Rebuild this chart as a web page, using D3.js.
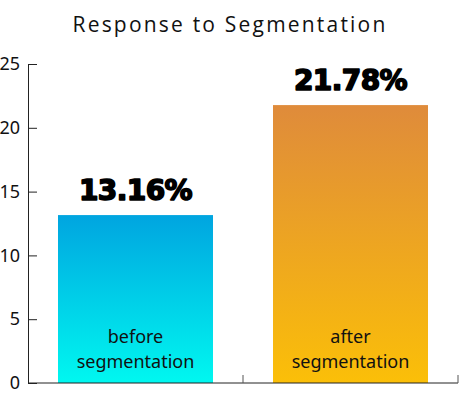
<!DOCTYPE html>
<html>
<head>
<meta charset="utf-8">
<script src="https://cdn.jsdelivr.net/npm/d3@7"></script>
<style>
  body { margin: 0; background: #fff; }
  svg { display: block; }
</style>
</head>
<body>
<div id="chart"></div>
<script>
var categories = ['before\nsegmentation', 'after\nsegmentation'];
var values = [13.16, 21.78];
var valueLabels = ['13.16%', '21.78%'];
var yTicks = [0, 5, 10, 15, 20, 25];
var gradients = [
    { top: '#00a5e0', bottom: '#00f8f0' },
    { top: '#df8b3b', bottom: '#fbbf08' }
];

var W = 460, H = 396;
var margin = { left: 28, right: 2, top: 64, bottom: 13 };

var svg = d3.select('#chart').append('svg')
    .attr('width', W)
    .attr('height', H);

var x = d3.scaleBand()
    .domain(categories)
    .range([margin.left, W - margin.right])
    .paddingInner(0)
    .paddingOuter(0);

var y = d3.scaleLinear()
    .domain([0, 25])
    .range([H - margin.bottom, margin.top]);

var defs = svg.append('defs');
gradients.forEach(function(g, i) {
    var lg = defs.append('linearGradient')
        .attr('id', 'grad' + i)
        .attr('x1', 0).attr('y1', 0).attr('x2', 0).attr('y2', 1);
    lg.append('stop').attr('offset', '0%').attr('stop-color', g.top);
    lg.append('stop').attr('offset', '100%').attr('stop-color', g.bottom);
});

// title
svg.append('text')
    .attr('x', 230)
    .attr('y', 32)
    .attr('text-anchor', 'middle')
    .style('font-family', '"Open Sans", sans-serif')
    .style('font-size', '21px')
    .style('letter-spacing', '2.2px')
    .style('fill', '#111')
    .text('Response to Segmentation');

var barW = 155;

svg.selectAll('rect.bar')
    .data(values)
    .enter().append('rect')
    .attr('class', 'bar')
    .attr('x', function(d, i) { return x(categories[i]) + x.bandwidth() / 2 - barW / 2; })
    .attr('y', function(d) { return y(d); })
    .attr('width', barW)
    .attr('height', function(d) { return y(0) - y(d); })
    .attr('fill', function(d, i) { return 'url(#grad' + i + ')'; });

// value labels
svg.selectAll('text.val')
    .data(values)
    .enter().append('text')
    .attr('class', 'val')
    .attr('x', function(d, i) { return x(categories[i]) + x.bandwidth() / 2; })
    .attr('y', function(d) { return y(d) - 15; })
    .attr('text-anchor', 'middle')
    .style('font-family', '"DejaVu Sans", sans-serif')
    .style('font-weight', 'bold')
    .style('font-size', '28px')
    .style('letter-spacing', '-0.6px')
    .style('stroke', '#000')
    .style('stroke-width', '1.6px')
    .style('stroke-linejoin', 'round')
    .style('fill', '#000')
    .text(function(d, i) { return valueLabels[i]; });

// category labels inside bars
categories.forEach(function(c, i) {
    var lines = c.split('\n');
    var t = svg.append('text')
        .attr('text-anchor', 'middle')
        .style('font-family', '"Noto Sans", sans-serif')
        .style('font-size', '18px')
        .style('fill', '#111');
    lines.forEach(function(l, j) {
        t.append('tspan')
            .attr('x', x(c) + x.bandwidth() / 2)
            .attr('y', 343 + j * 25)
            .text(l);
    });
});

// y axis, ticks pointing inward
var yAxis = svg.append('g')
    .attr('transform', 'translate(' + margin.left + ',0)')
    .call(d3.axisRight(y).tickValues(yTicks).tickSize(9).tickSizeOuter(0));
yAxis.selectAll('text')
    .attr('text-anchor', 'end')
    .attr('x', -8)
    .style('font-family', '"Noto Sans", sans-serif')
    .style('font-size', '18px')
    .style('fill', '#111');
yAxis.select('.domain').attr('stroke', '#222');
yAxis.selectAll('line').attr('stroke', '#222');

// x axis with ticks at band boundaries
var xAxis = svg.append('g')
    .attr('transform', 'translate(0,' + y(0) + ')');
xAxis.append('line')
    .attr('x1', margin.left).attr('x2', W - margin.right)
    .attr('stroke', '#222');
xAxis.selectAll('line.tk')
    .data(categories)
    .enter().append('line')
    .attr('class', 'tk')
    .attr('x1', function(c) { return x(c) + x.bandwidth(); })
    .attr('x2', function(c) { return x(c) + x.bandwidth(); })
    .attr('y1', 0).attr('y2', -8)
    .attr('stroke', '#555');
</script>
</body>
</html>
